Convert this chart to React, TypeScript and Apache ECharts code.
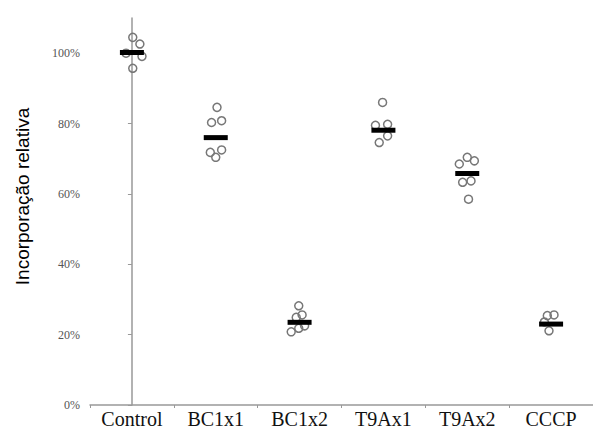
import React, { useEffect, useRef } from "react";
import * as echarts from "echarts";

const categories = ["Control", "BC1x1", "BC1x2", "T9Ax1", "T9Ax2", "CCCP"];
const means = [100.2, 76.0, 23.5, 78.1, 65.8, 23.0];

const controlValues = [104.5, 102.6, 99.1, 95.7, 100.0];
const bc1x1Values = [84.6, 80.3, 80.8, 71.8, 70.4, 72.5];
const bc1x2Values = [28.2, 25.6, 24.9, 20.8, 21.8, 22.5];
const t9ax1Values = [86.0, 79.5, 79.8, 74.6, 76.5];
const t9ax2Values = [68.5, 70.4, 69.4, 63.3, 63.7, 58.5];
const cccpValues = [25.4, 25.6, 21.1, 23.6];

const groupValues = [controlValues, bc1x1Values, bc1x2Values, t9ax1Values, t9ax2Values, cccpValues];

// horizontal jitter of each point within its category (in category units)
const jitter = [
  [0.01, 0.095, 0.12, 0.01, -0.07],
  [0.015, -0.05, 0.07, -0.065, 0, 0.07],
  [-0.01, 0.03, -0.04, -0.1, -0.01, 0.06],
  [-0.01, -0.095, 0.05, -0.05, 0.05],
  [-0.095, 0, 0.085, -0.055, 0.045, 0.015],
  [-0.045, 0.035, -0.025, -0.08],
];

const yTicks = [0, 20, 40, 60, 80, 100];

export default function App() {
  const ref = useRef<HTMLDivElement>(null);
  useEffect(() => {
    if (!ref.current) return;
    const chart = echarts.init(ref.current, undefined, { renderer: "svg" });
    const points: number[][] = [];
    groupValues.forEach((vals, i) => {
      vals.forEach((v, j) => points.push([i + jitter[i][j], v]));
    });
    chart.setOption({
      animation: false,
      backgroundColor: "#fff",
      grid: { left: 90, right: 0, top: 18, bottom: 23 },
      xAxis: [
        {
          type: "category",
          data: categories,
          boundaryGap: true,
          axisLine: { lineStyle: { color: "#999", width: 1.5 } },
          axisTick: { show: true, length: 3, lineStyle: { color: "#999" } },
          axisLabel: {
            color: "#111",
            fontFamily: "Liberation Serif",
            fontSize: 20,
            margin: 4,
          },
          splitLine: { show: false },
        },
        {
          type: "value",
          min: -0.5,
          max: 5.5,
          show: false,
        },
      ],
      yAxis: {
        type: "value",
        min: 0,
        max: 110,
        interval: 20,
        name: "Incorporação relativa",
        nameLocation: "middle",
        nameGap: 58,
        nameTextStyle: {
          fontFamily: "Liberation Sans",
          fontSize: 19,
          color: "#000",
          padding: [0, 0, 0, 30],
        },
        axisLine: { show: true, lineStyle: { color: "#999", width: 1.5 } },
        axisTick: {
          show: true,
          length: 4,
          lineStyle: { color: "#999" },
          customValues: yTicks,
        },
        axisLabel: {
          color: "#555",
          fontFamily: "Liberation Serif",
          fontSize: 12,
          margin: 10,
          customValues: yTicks,
          formatter: (v: number) => v + "%",
        },
        splitLine: { show: false },
      },
      series: [
        {
          type: "scatter",
          xAxisIndex: 1,
          data: points,
          symbol: "circle",
          symbolSize: 8,
          itemStyle: { color: "rgba(255,255,255,0)", borderColor: "#777", borderWidth: 1.5, opacity: 1 },
          z: 2,
        },
        {
          type: "scatter",
          xAxisIndex: 0,
          data: means,
          symbol: "rect",
          symbolSize: [24, 5],
          itemStyle: { color: "#000", opacity: 1 },
          z: 3,
        },
      ],
    });
    return () => chart.dispose();
  }, []);
  return <div ref={ref} style={{ width: 593, height: 429, position: "absolute", left: 0, top: 0 }} />;
}
